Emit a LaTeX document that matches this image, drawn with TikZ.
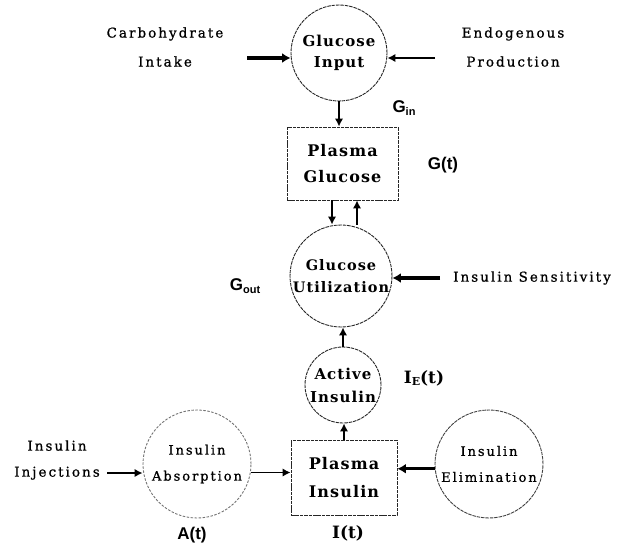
\documentclass[tikz,border=0pt]{standalone}
\usepackage{fontspec}
\usetikzlibrary{arrows.meta}
\newfontfamily\txtfont[LetterSpace=7]{DejaVu Serif}
\newfontfamily\outfont[LetterSpace=15, FakeBold=0.9]{DejaVu Serif}
\newfontfamily\varfont{Liberation Sans}
\newfontfamily\varserif{DejaVu Serif}
\newcommand{\sub}[1]{\raisebox{-2.5pt}{\fontsize{11}{11}\selectfont #1}}

\begin{document}
\begin{tikzpicture}[x=1pt,y=-1pt,
  outline/.style={draw=black!85, line width=0.9pt, dash pattern=on 3.5pt off 0.9pt},
  pool/.style={outline, circle, inner sep=0pt, align=center},
  store/.style={outline, rectangle, inner sep=0pt, align=center,
    minimum width=111pt, minimum height=73pt},
  bigtxt/.style={font=\txtfont\bfseries\fontsize{14.5}{22}\selectfont},
  midtxt/.style={font=\outfont\fontsize{13}{26}\selectfont},
  outtxt/.style={font=\outfont\fontsize{13.5}{29}\selectfont, align=center, inner sep=0pt},
  varlab/.style={font=\varfont\bfseries\fontsize{17}{17}\selectfont, inner sep=0pt},
  serlab/.style={font=\varserif\bfseries\fontsize{17}{17}\selectfont, inner sep=0pt},
  arr/.style={-{Latex[length=8pt,width=8.5pt]}, line width=2.2pt},
  thick arr/.style={-{Latex[length=8.5pt,width=10pt]}, line width=3.2pt},
]
\useasboundingbox (0,0) rectangle (630,546);

% glucose side
\node[pool, bigtxt, font=\txtfont\bfseries\fontsize{15}{21}\selectfont, minimum size=96pt] (gin) at (339,53) {Glucose\\Input};
\node[store, bigtxt, font=\txtfont\bfseries\fontsize{16}{26}\selectfont] (pg) at (342.5,163.5) {Plasma\\Glucose};
\node[pool, bigtxt, minimum size=102pt] (gut) at (341,276) {Glucose\\Utilization};
\node[pool, bigtxt, font=\txtfont\bfseries\fontsize{15}{23}\selectfont, minimum size=76pt] (act) at (343,385) {Active\\Insulin};

% insulin side
\node[store, bigtxt, font=\txtfont\bfseries\fontsize{16}{28}\selectfont,
  minimum width=106pt, minimum height=75pt] (pi) at (344,477.5) {Plasma\\Insulin};
\node[pool, midtxt, minimum size=108pt, draw=black!55, dash pattern=on 2.5pt off 1.5pt] (abs) at (197,464) {Insulin\\Absorption};
\node[pool, midtxt, minimum size=108pt, draw=black!75] (elim) at (489,464) {Insulin\\Elimination};

% free labels
\node[outtxt] (carb) at (165,47) {Carbohydrate\\Intake};
\node[outtxt] (endo) at (513,47) {Endogenous\\Production};
\node[outtxt, anchor=west] (sens) at (453,278) {Insulin Sensitivity};
\node[outtxt, font=\outfont\fontsize{13.5}{26}\selectfont] (inj) at (57,460) {Insulin\\Injections};

% variable names
\node[varlab] (lgin) at (404,108) {G\sub{in}};
\node[varlab] (lg) at (443,165) {G(t)};
\node[varlab] (lgout) at (245,286) {G\sub{out}};
\node[serlab] (lie) at (424,378) {I\sub{E}(t)};
\node[varlab] (la) at (192,535) {A(t)};
\node[serlab] (li) at (348,533) {I(t)};

% free ends of the inflow arrows
\coordinate (cin) at (247,58);
\coordinate (ein) at (435,58);
\coordinate (sin) at (440,278);
\coordinate (iin) at (107,473);

% connectors
\draw[thick arr] (cin) -- (cin -| gin.west);
\draw[arr] (ein) -- (ein -| gin.east);
\draw[arr] (gin.south) -- (gin.south |- pg.north);
\draw[arr] ([xshift=-10.5pt]pg.south) -- ([xshift=-10.5pt]pg.south |- gut.north);
\draw[arr] ([xshift=14.5pt]pg.south |- gut.north) -- ([xshift=14.5pt]pg.south);
\draw[thick arr] (sin) -- (sin -| gut.east);
\draw[arr] (act.north) -- (act.north |- gut.south);
\draw[arr] (pi.north) -- (pi.north |- act.south);
\draw[arr] (iin) -- (iin -| abs.west);
\draw[arr, line width=1.8pt] (abs.-9) -- (abs.-9 -| pi.west);
\draw[thick arr] (elim.185) -- (elim.185 -| pi.east);
\end{tikzpicture}
\end{document}
